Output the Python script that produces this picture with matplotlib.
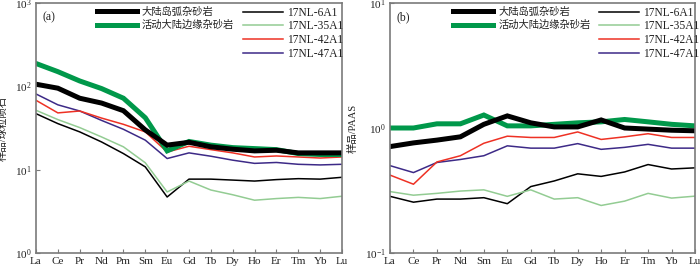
import numpy as np
import matplotlib
matplotlib.use('Agg')
import matplotlib.pyplot as plt
from matplotlib.lines import Line2D
from matplotlib.ticker import LogLocator, NullLocator

plt.rcParams['font.family'] = ['Liberation Serif', 'Noto Sans CJK SC']
plt.rcParams['mathtext.fontset'] = 'stix'

# chondrite-normalised (panel a)
ree_a = ['La', 'Ce', 'Pr', 'Nd', 'Pm', 'Sm', 'Eu', 'Gd', 'Tb', 'Dy', 'Ho', 'Er', 'Tm', 'Yb', 'Lu']
arc_a = [106, 95, 72, 63, 51, 30, 19.7, 21.3, 18.8, 17.6, 16.8, 17.1, 15.9, 15.9, 15.9]
margin_a = [188, 150, 116, 94, 72, 42, 16.8, 21.8, 19.7, 18.4, 17.9, 17.4, 15.6, 15.2, 15.2]
s6_a = [47, 35.7, 28.4, 21.5, 15.6, 10.8, 4.7, 7.7, 7.7, 7.5, 7.3, 7.6, 7.8, 7.7, 8.1]
s35_a = [51.6, 39.9, 32, 24.7, 18.8, 12.1, 5.4, 7.3, 5.7, 5.0, 4.3, 4.5, 4.65, 4.5, 4.8]
s42_a = [68, 48, 50.6, 41.6, 35, 28.4, 16.3, 19.1, 17.4, 15.9, 14.2, 14.6, 14.2, 13.8, 14.2]
s47_a = [81, 60, 50.6, 39, 30.5, 22.6, 13.6, 15.9, 14.5, 13, 11.9, 12.2, 11.6, 11.4, 11.6]

# PAAS-normalised (panel b)
ree_b = ['La', 'Ce', 'Pr', 'Nd', 'Sm', 'Eu', 'Gd', 'Tb', 'Dy', 'Ho', 'Er', 'Tm', 'Yb', 'Lu']
arc_b = [0.71, 0.76, 0.80, 0.85, 1.07, 1.25, 1.10, 1.02, 1.02, 1.16, 1.0, 0.98, 0.96, 0.95]
margin_b = [1.0, 1.0, 1.08, 1.08, 1.27, 1.04, 1.04, 1.07, 1.10, 1.12, 1.17, 1.12, 1.07, 1.04]
s6_b = [0.284, 0.255, 0.27, 0.27, 0.277, 0.248, 0.34, 0.377, 0.43, 0.41, 0.445, 0.51, 0.47, 0.48]
s35_b = [0.31, 0.29, 0.30, 0.313, 0.32, 0.284, 0.32, 0.27, 0.277, 0.24, 0.26, 0.30, 0.275, 0.285]
s42_b = [0.42, 0.355, 0.535, 0.60, 0.755, 0.86, 0.84, 0.84, 0.93, 0.81, 0.85, 0.90, 0.84, 0.84]
s47_b = [0.50, 0.44, 0.53, 0.56, 0.60, 0.72, 0.69, 0.69, 0.75, 0.675, 0.70, 0.74, 0.69, 0.69]

ref_labels = ['大陆岛弧杂砂岩', '活动大陆边缘杂砂岩']
sample_labels = ['17NL-6A1', '17NL-35A1', '17NL-42A1', '17NL-47A1']

c_arc = 'black'
c_margin = '#00984a'
c_s6 = 'black'
c_s35 = '#93cc93'
c_s42 = '#ee3124'
c_s47 = '#3d2a87'
txt = '#222222'
spine = '#7a7a7a'

fig = plt.figure(figsize=(7, 2.72), dpi=100)
ax1 = fig.add_axes([36 / 700, 19 / 272, 306 / 700, 250 / 272])
ax2 = fig.add_axes([390 / 700, 19 / 272, 305 / 700, 250 / 272])


def draw(ax, ree, arc, margin, s6, s35, s42, s47, ylim, ylabel, tag, lab_x, leg_x):
    x = np.arange(len(ree))
    ax.plot(x, s6, color=c_s6, lw=1.1)
    ax.plot(x, s35, color=c_s35, lw=1.1)
    ax.plot(x, s47, color=c_s47, lw=1.1)
    ax.plot(x, s42, color=c_s42, lw=1.1)
    ax.plot(x, margin, color=c_margin, lw=3.6, solid_joinstyle='miter')
    ax.plot(x, arc, color=c_arc, lw=3.6, solid_joinstyle='miter')
    ax.set_yscale('log')
    ax.set_ylim(*ylim)
    ax.set_xlim(0, len(ree) - 1)
    ax.set_xticks(x)
    ax.set_xticklabels(ree)
    ax.yaxis.set_major_locator(LogLocator(base=10))
    ax.yaxis.set_minor_locator(NullLocator())
    ax.tick_params(direction='in', length=3, width=0.8, color=spine,
                   labelsize=8, labelcolor=txt, pad=3)
    for s in ax.spines.values():
        s.set_color(spine)
        s.set_linewidth(1.2)
    ax.set_ylabel(ylabel, fontsize=7.5, color=txt)
    ax.yaxis.set_label_coords(lab_x, 0.5)
    ax.text(0.02, 0.965, tag, transform=ax.transAxes, fontsize=8.5,
            color=txt, va='top', ha='left')

    h1 = [Line2D([], [], color=c_arc, lw=3.6), Line2D([], [], color=c_margin, lw=3.6)]
    leg1 = ax.legend(h1, ref_labels, loc='upper left', bbox_to_anchor=(leg_x[0], 0.984),
                     frameon=False, fontsize=7.4, handlelength=3.9, handletextpad=0.48,
                     labelspacing=0.3, borderpad=0, borderaxespad=0, labelcolor=txt)
    ax.add_artist(leg1)
    h2 = [Line2D([], [], color=c, lw=1.1) for c in (c_s6, c_s35, c_s42, c_s47)]
    ax.legend(h2, sample_labels, loc='upper left', bbox_to_anchor=(leg_x[1], 0.985),
              frameon=False, fontsize=8.3, handlelength=3.47, handletextpad=0.35,
              labelspacing=0.15, borderpad=0, borderaxespad=0, labelcolor=txt)


draw(ax1, ree_a, arc_a, margin_a, s6_a, s35_a, s42_a, s47_a, (1, 1000),
     '样品/球粒陨石', '(a)', -0.092, (0.199, 0.676))
draw(ax2, ree_b, arc_b, margin_b, s6_b, s35_b, s42_b, s47_b, (0.1, 10),
     '样品/PAAS', '(b)', -0.105, (0.207, 0.684))

fig.savefig('out.png', dpi=100)
